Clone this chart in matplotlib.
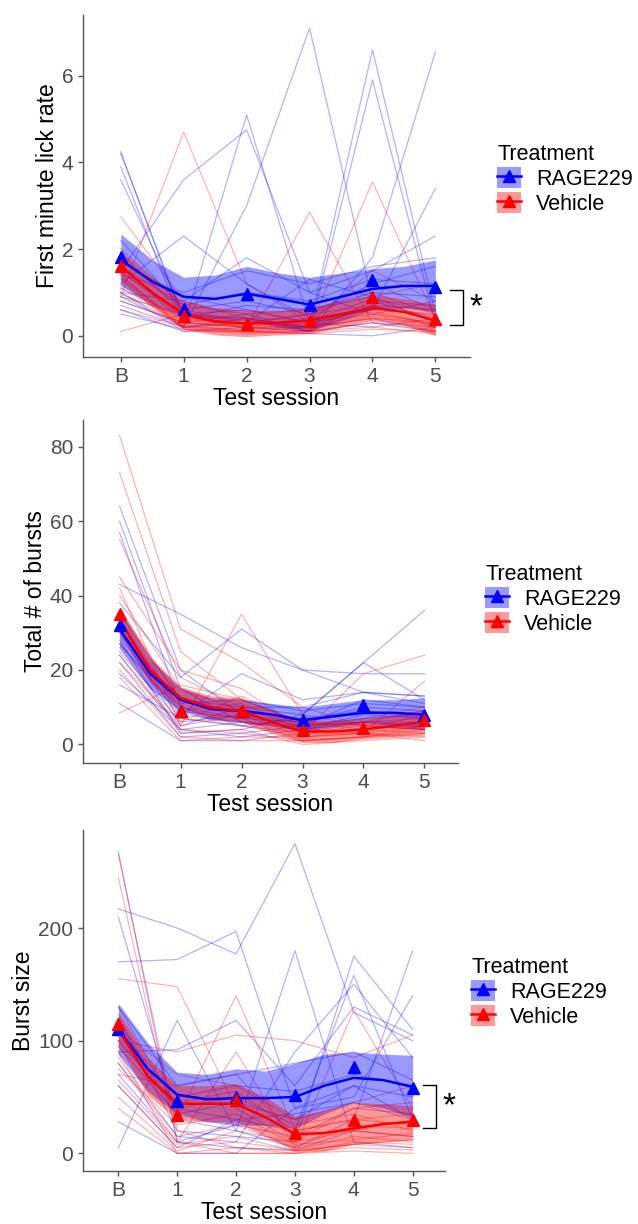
import numpy as np
import matplotlib
matplotlib.use("Agg")
import matplotlib.pyplot as plt
from matplotlib.patches import Patch
from matplotlib.lines import Line2D
from matplotlib.legend_handler import HandlerTuple

plt.rcParams['font.family'] = ['Liberation Sans', 'DejaVu Sans']

sessions = ["B", "1", "2", "3", "4", "5"]
smooth_x = [0, 0.5, 1, 1.5, 2, 2.5, 3, 3.5, 4, 4.5, 5]
groups = ["RAGE229", "Vehicle"]

# ---- panel 1: first minute lick rate ----
lick_rage = [
    [4.25, 0.3, 0.2, 0.1, 0.3, 0.2],
    [4.2, 0.4, 0.3, 0.2, 6.6, 0.5],
    [3.9, 0.2, 5.1, 0.3, 0.2, 0.4],
    [3.6, 0.5, 0.4, 0.1, 5.9, 0.3],
    [1.5, 3.6, 4.75, 1.0, 0.5, 0.8],
    [1.0, 0.2, 3.0, 7.1, 0.8, 0.4],
    [1.2, 2.3, 1.2, 0.4, 0.6, 0.5],
    [1.0, 0.8, 1.8, 1.0, 1.5, 2.3],
    [0.8, 0.3, 0.5, 0.1, 1.8, 6.55],
    [0.9, 0.5, 0.6, 0.3, 0.6, 3.4],
    [2.2, 0.6, 0.8, 0.5, 1.2, 1.6],
    [0.7, 0.2, 0.3, 1.3, 0.9, 0.3],
    [0.6, 0.1, 0.2, 0.2, 0.4, 0.1],
    [1.4, 1.0, 1.5, 1.2, 1.6, 1.8],
    [0.5, 0.15, 0.1, 0.05, 0.0, 0.2],
    [1.1, 0.4, 0.7, 0.6, 1.0, 0.9],
    [0.9, 0.2, 0.4, 0.2, 0.7, 0.6],
    [1.6, 0.7, 1.0, 0.8, 1.3, 1.2],
]
lick_vehicle = [
    [2.75, 0.8, 0.4, 0.2, 0.5, 0.3],
    [0.9, 4.7, 1.2, 0.3, 0.5, 0.2],
    [1.6, 0.3, 0.2, 2.85, 0.3, 0.1],
    [1.2, 0.2, 0.1, 0.2, 3.55, 0.4],
    [1.8, 0.6, 0.3, 0.5, 1.0, 0.5],
    [1.5, 0.4, 0.2, 0.1, 0.8, 0.7],
    [1.3, 0.2, 0.15, 0.3, 0.6, 0.2],
    [1.0, 0.1, 0.1, 0.1, 0.3, 0.1],
    [0.8, 0.3, 0.2, 0.4, 1.2, 0.6],
    [0.1, 0.5, 0.3, 0.2, 0.4, 0.3],
    [2.0, 0.7, 0.5, 0.6, 0.9, 1.2],
    [1.4, 0.15, 0.05, 0.1, 0.2, 0.05],
    [0.6, 0.2, 0.3, 0.5, 0.7, 0.2],
    [1.7, 0.9, 0.6, 0.3, 1.5, 0.8],
    [1.1, 0.35, 0.25, 0.15, 0.45, 0.15],
    [1.9, 0.5, 0.35, 0.25, 0.65, 0.45],
    [1.35, 0.25, 0.1, 0.05, 0.15, 0.1],
    [0.95, 0.45, 0.4, 0.35, 0.85, 0.55],
    [1.45, 0.55, 0.15, 0.2, 0.55, 0.25],
]
lick_rage_fit = [1.75, 1.25, 0.9, 0.85, 0.97, 0.85, 0.72, 0.9, 1.08, 1.15, 1.15]
lick_rage_hi = [2.35, 1.75, 1.35, 1.4, 1.6, 1.45, 1.35, 1.45, 1.55, 1.6, 1.75]
lick_rage_lo = [1.15, 0.75, 0.45, 0.35, 0.35, 0.2, 0.1, 0.35, 0.6, 0.65, 0.55]
lick_veh_fit = [1.6, 1.0, 0.48, 0.33, 0.28, 0.3, 0.35, 0.5, 0.65, 0.55, 0.35]
lick_veh_hi = [1.95, 1.35, 0.8, 0.65, 0.58, 0.58, 0.65, 0.8, 0.95, 0.85, 0.72]
lick_veh_lo = [1.25, 0.65, 0.15, 0.02, -0.02, 0.02, 0.05, 0.2, 0.35, 0.25, 0.0]
lick_rage_mean = [1.82, 0.62, 0.97, 0.72, 1.28, 1.12]
lick_veh_mean = [1.62, 0.45, 0.28, 0.35, 0.9, 0.38]

# ---- panel 2: total number of bursts ----
bursts_rage = [
    [64, 20, 8, 5, 6, 5],
    [60, 15, 6, 4, 8, 7],
    [57, 10, 5, 3, 5, 4],
    [43, 35, 26, 20, 19, 19],
    [38, 18, 31, 20, 14, 13],
    [33, 8, 19, 12, 14, 11],
    [30, 5, 10, 8, 22, 12],
    [28, 3, 4, 8, 22, 36],
    [25, 6, 8, 6, 10, 9],
    [22, 2, 3, 5, 12, 10],
    [19, 4, 2, 4, 6, 6],
    [11, 1, 1, 3, 4, 5],
    [16, 7, 5, 7, 9, 8],
    [35, 12, 10, 10, 14, 13],
    [27, 9, 7, 6, 9, 7],
    [24, 4, 6, 5, 7, 8],
    [31, 11, 12, 9, 11, 10],
]
bursts_vehicle = [
    [83, 31, 22, 10, 5, 4],
    [73, 25, 12, 6, 4, 3],
    [55, 18, 10, 4, 3, 2],
    [42, 5, 35, 8, 5, 6],
    [40, 15, 9, 3, 19, 24],
    [36, 12, 8, 2, 3, 17],
    [30, 10, 7, 1, 2, 5],
    [27, 8, 6, 3, 4, 8],
    [24, 3, 4, 0, 1, 2],
    [20, 2, 1, 1, 2, 3],
    [8.5, 16, 12, 6, 5, 4],
    [33, 6, 13, 5, 6, 9],
    [18, 1, 2, 2, 3, 1],
    [45, 20, 15, 4, 7, 10],
    [29, 7, 5, 2, 4, 6],
    [26, 4, 3, 1, 2, 4],
    [34, 9, 11, 4, 6, 7],
    [22, 5, 8, 3, 3, 5],
]
bursts_rage_fit = [31, 19, 12, 9.5, 9, 8, 6.5, 7.5, 8.5, 8.5, 8]
bursts_rage_hi = [36, 23, 15, 12.5, 12, 11, 10, 11, 12, 12, 12.5]
bursts_rage_lo = [26, 15, 9, 6.5, 6, 5, 3.5, 4.5, 5.5, 5, 4]
bursts_veh_fit = [33.5, 20, 12.5, 10, 9, 6, 3.5, 3.5, 4, 5, 6]
bursts_veh_hi = [37, 23.5, 15.5, 13, 12.5, 9, 6.5, 6.5, 7, 8, 9.5]
bursts_veh_lo = [30, 16.5, 10, 7, 6, 3, 0.5, 0.5, 1.5, 2, 2.5]
bursts_rage_mean = [32, 9, 9, 6.5, 10.5, 8]
bursts_veh_mean = [35, 9, 9, 4, 4.5, 6.5]

# ---- panel 3: burst size ----
size_rage = [
    [268, 10, 5, 3, 20, 15],
    [217, 200, 177, 275, 125, 100],
    [170, 172, 197, 40, 60, 30],
    [210, 30, 20, 180, 10, 5],
    [120, 20, 15, 10, 175, 110],
    [100, 40, 30, 20, 158, 30],
    [5, 118, 20, 5, 30, 180],
    [28, 0, 0, 40, 50, 140],
    [90, 92, 118, 60, 130, 105],
    [130, 60, 70, 80, 90, 65],
    [80, 15, 10, 90, 150, 85],
    [60, 5, 30, 35, 45, 30],
    [110, 50, 60, 55, 70, 60],
    [95, 35, 45, 30, 60, 50],
    [70, 10, 25, 15, 40, 35],
]
size_vehicle = [
    [245, 10, 0, 0, 5, 3],
    [265, 20, 5, 2, 8, 5],
    [155, 148, 40, 10, 20, 15],
    [120, 30, 140, 20, 30, 25],
    [100, 90, 105, 100, 85, 105],
    [80, 10, 90, 5, 127, 40],
    [70, 60, 70, 15, 20, 30],
    [90, 0, 0, 0, 10, 8],
    [60, 5, 10, 3, 15, 10],
    [50, 2, 20, 10, 40, 45],
    [130, 40, 50, 25, 35, 20],
    [75, 25, 35, 8, 12, 18],
    [40, 0, 5, 0, 2, 0],
    [110, 70, 60, 30, 45, 60],
    [85, 15, 25, 5, 25, 22],
    [65, 8, 15, 2, 8, 12],
    [100, 45, 55, 20, 30, 35],
]
size_rage_fit = [110, 75, 52, 48, 49, 49, 50, 60, 67, 65, 59]
size_rage_hi = [133, 98, 72, 70, 75, 73, 80, 88, 90, 88, 87]
size_rage_lo = [88, 55, 35, 28, 25, 25, 22, 35, 45, 40, 32]
size_veh_fit = [110, 68, 44, 44, 44, 32, 17, 18, 22, 26, 28]
size_veh_hi = [125, 85, 60, 60, 62, 50, 33, 38, 45, 44, 42]
size_veh_lo = [95, 52, 30, 28, 28, 15, 2, 2, 8, 10, 12]
size_rage_mean = [110, 46, 50, 52, 77, 58]
size_veh_mean = [115, 34, 47, 18, 30, 30]

BLUE = "#0000FF"
RED = "#FF0000"
W, H = 638, 1224

fig = plt.figure(figsize=(W / 100, H / 100), dpi=100)


def px_axes(left, top, right, bottom):
    return fig.add_axes([left / W, 1 - bottom / H, (right - left) / W, (bottom - top) / H])


def draw_panel(ax, rage, veh, rfit, rhi, rlo, vfit, vhi, vlo, rmean, vmean,
               ylabel, ylim, yticks):
    x = np.arange(len(sessions))
    for row in rage:
        ax.plot(x, row, color=BLUE, alpha=0.3, lw=0.9, zorder=2)
    for row in veh:
        ax.plot(x, row, color=RED, alpha=0.3, lw=0.9, zorder=2)
    ax.fill_between(smooth_x, rlo, rhi, color=BLUE, alpha=0.4, lw=0, zorder=3)
    ax.fill_between(smooth_x, vlo, vhi, color=RED, alpha=0.4, lw=0, zorder=3)
    ax.plot(smooth_x, rfit, color=BLUE, lw=1.8, zorder=4)
    ax.plot(smooth_x, vfit, color=RED, lw=1.8, zorder=4)
    ax.plot(x, rmean, ls="none", marker="^", ms=8, color=BLUE, zorder=5)
    ax.plot(x, vmean, ls="none", marker="^", ms=8, color=RED, zorder=5)

    ax.set_xlim(-0.6, 5.55)
    ax.set_ylim(*ylim)
    ax.set_xticks(x)
    ax.set_xticklabels(sessions)
    ax.set_yticks(yticks)
    for s in ["top", "right"]:
        ax.spines[s].set_visible(False)
    for s in ["left", "bottom"]:
        ax.spines[s].set_color("#555555")
        ax.spines[s].set_linewidth(1.0)
    ax.tick_params(colors="#555555", labelcolor="#4D4D4D", labelsize=15,
                   length=3.5, width=1.0, pad=3.5)
    ax.set_xlabel("Test session", fontsize=16.5, labelpad=1)
    ax.set_ylabel(ylabel, fontsize=16.5, labelpad=2)


def add_legend(x, y):
    h_r = (Patch(facecolor=BLUE, alpha=0.4, lw=0),
           Line2D([], [], color=BLUE, lw=1.8, marker="^", ms=8))
    h_v = (Patch(facecolor=RED, alpha=0.4, lw=0),
           Line2D([], [], color=RED, lw=1.8, marker="^", ms=8))
    leg = fig.legend([h_r, h_v], groups, title="Treatment",
                     handler_map={tuple: HandlerTuple(ndivide=1)},
                     loc="upper left", bbox_to_anchor=(x / W, 1 - y / H),
                     frameon=False, fontsize=15.5, title_fontsize=15.5,
                     handlelength=1.1, handleheight=1.1, handletextpad=0.7,
                     labelspacing=0.1, borderpad=0, borderaxespad=0)
    leg._legend_box.align = "left"


def add_bracket(ax, y_top, y_bot, x0, x1):
    ax.plot([x0, x1, x1, x0], [y_top, y_top, y_bot, y_bot], color="black",
            lw=1.0, clip_on=False)
    ax.text(x1 + 0.1, (y_top + y_bot) / 2, "*", fontsize=24, ha="left",
            va="center", clip_on=False)


ax1 = px_axes(83, 15, 470, 357)
draw_panel(ax1, lick_rage, lick_vehicle, lick_rage_fit, lick_rage_hi, lick_rage_lo,
           lick_veh_fit, lick_veh_hi, lick_veh_lo, lick_rage_mean, lick_veh_mean,
           "First minute lick rate", (-0.49, 7.4), [0, 2, 4, 6])
add_legend(497, 144)
add_bracket(ax1, 1.06, 0.25, 5.24, 5.44)

ax2 = px_axes(83, 420, 458, 763)
draw_panel(ax2, bursts_rage, bursts_vehicle, bursts_rage_fit, bursts_rage_hi,
           bursts_rage_lo, bursts_veh_fit, bursts_veh_hi, bursts_veh_lo,
           bursts_rage_mean, bursts_veh_mean,
           "Total # of bursts", (-5, 87.2), [0, 20, 40, 60, 80])
add_legend(485, 564)

ax3 = px_axes(83, 830, 445, 1171)
draw_panel(ax3, size_rage, size_vehicle, size_rage_fit, size_rage_hi, size_rage_lo,
           size_veh_fit, size_veh_hi, size_veh_lo, size_rage_mean, size_veh_mean,
           "Burst size", (-15.7, 287), [0, 100, 200])
add_legend(471, 957)
add_bracket(ax3, 60.7, 22.5, 5.18, 5.4)

fig.savefig("out.png", dpi=100)
